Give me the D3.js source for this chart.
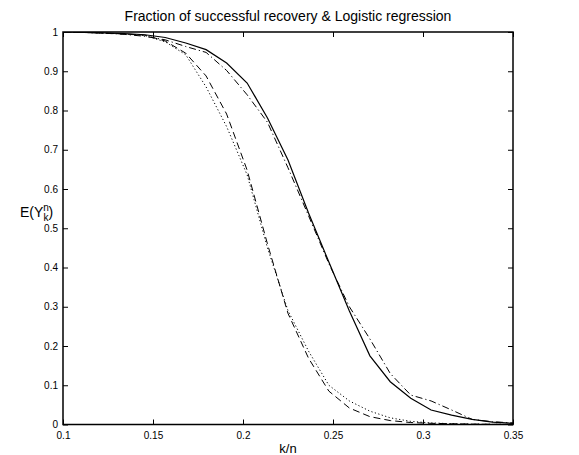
<!DOCTYPE html>
<html>
<head>
<meta charset="utf-8">
<script src="https://cdn.jsdelivr.net/npm/d3@7"></script>
<style>
  html, body { margin: 0; padding: 0; background: #fff; }
  svg { display: block; }
  text { font-family: "Liberation Sans", Arial, Helvetica, sans-serif; fill: #000; }
</style>
</head>
<body>
<svg id="chart" width="579" height="455"></svg>
<script>
// ---- data ----
const kn = [0.1000, 0.1114, 0.1227, 0.1341, 0.1455, 0.1568, 0.1682, 0.1795, 0.1909, 0.2023, 0.2136, 0.2250,
            0.2364, 0.2477, 0.2591, 0.2705, 0.2818, 0.2932, 0.3045, 0.3159, 0.3273, 0.3386, 0.3500];

const recoveryA = [1.000, 0.999, 0.998, 0.996, 0.993, 0.986, 0.972, 0.955, 0.921, 0.870, 0.781, 0.674,
                   0.539, 0.414, 0.289, 0.175, 0.109, 0.067, 0.037, 0.024, 0.013, 0.006, 0.003];
const logisticA = [0.9995, 0.999, 0.997, 0.994, 0.989, 0.980, 0.963, 0.948, 0.902, 0.840, 0.770, 0.654,
                   0.532, 0.410, 0.300, 0.218, 0.130, 0.075, 0.060, 0.037, 0.013, 0.007, 0.004];
const recoveryB = [0.9995, 0.999, 0.997, 0.995, 0.992, 0.977, 0.946, 0.888, 0.791, 0.648, 0.460, 0.283,
                   0.169, 0.085, 0.042, 0.020, 0.010, 0.005, 0.003, 0.002, 0.001, 0.0005, 0.0003];
const logisticB = [0.9995, 0.999, 0.997, 0.995, 0.991, 0.975, 0.942, 0.860, 0.759, 0.636, 0.450, 0.290,
                   0.187, 0.100, 0.060, 0.034, 0.017, 0.008, 0.004, 0.002, 0.001, 0.0005, 0.0002];

const xTicks = [0.1, 0.15, 0.2, 0.25, 0.3, 0.35];
const xTickLabels = ["0.1", "0.15", "0.2", "0.25", "0.3", "0.35"];
const yTicks = [0, 0.1, 0.2, 0.3, 0.4, 0.5, 0.6, 0.7, 0.8, 0.9, 1];
const yTickLabels = ["0", "0.1", "0.2", "0.3", "0.4", "0.5", "0.6", "0.7", "0.8", "0.9", "1"];

const titleText = "Fraction of successful recovery & Logistic regression";
const xLabelText = "k/n";

// ---- layout ----
const svg = d3.select("#chart");
const W = 579, H = 455;
const m = { left: 63, right: 66, top: 32, bottom: 30.5 };
const x = d3.scaleLinear().domain([0.1, 0.35]).range([m.left, W - m.right]);
const y = d3.scaleLinear().domain([0, 1]).range([H - m.bottom, m.top]);

svg.append("rect").attr("width", W).attr("height", H).attr("fill", "#fff");

svg.append("defs").append("clipPath").attr("id", "clip")
  .append("rect").attr("x", m.left).attr("y", m.top)
  .attr("width", x.range()[1] - m.left).attr("height", y.range()[0] - m.top);

// ---- series ----
const series = [
  { vals: recoveryA, dash: null, w: 1.2 },
  { vals: logisticA, dash: "7,3,1.2,3", w: 1.0 },
  { vals: recoveryB, dash: "7,4", w: 1.0 },
  { vals: logisticB, dash: "1.2,2.4", w: 1.0 }
];
const line = d3.line().x((d, i) => x(kn[i])).y(d => y(d));
const g = svg.append("g").attr("clip-path", "url(#clip)");
series.forEach(s => {
  g.append("path").datum(s.vals)
    .attr("d", line)
    .attr("fill", "none")
    .attr("stroke", "#000")
    .attr("stroke-width", s.w)
    .attr("stroke-dasharray", s.dash);
});

// ---- axes ----
const fmtX = d => xTickLabels[xTicks.indexOf(d)];
const fmtY = d => yTickLabels[yTicks.indexOf(d)];

const axB = svg.append("g").attr("transform", `translate(0,${y(0)})`)
  .call(d3.axisBottom(x).tickValues(xTicks).tickFormat(fmtX).tickSizeInner(-5).tickSizeOuter(0).tickPadding(7));
const axT = svg.append("g").attr("transform", `translate(0,${y(1)})`)
  .call(d3.axisTop(x).tickValues(xTicks).tickFormat("").tickSizeInner(-5).tickSizeOuter(0));
const axL = svg.append("g").attr("transform", `translate(${x(0.1)},0)`)
  .call(d3.axisLeft(y).tickValues(yTicks).tickFormat(fmtY).tickSizeInner(-5).tickSizeOuter(0).tickPadding(5));
const axR = svg.append("g").attr("transform", `translate(${x(0.35)},0)`)
  .call(d3.axisRight(y).tickValues(yTicks).tickFormat("").tickSizeInner(-5).tickSizeOuter(0));

[axB, axT, axL, axR].forEach(a => {
  a.select(".domain").remove();
  a.selectAll(".tick line").attr("stroke", "#000").attr("stroke-width", 1);
  a.selectAll(".tick text").attr("font-size", 10).attr("font-family", "Liberation Sans, Arial, sans-serif").attr("fill", "#000");
});

// box
svg.append("rect")
  .attr("x", x(0.1)).attr("y", y(1))
  .attr("width", x(0.35) - x(0.1)).attr("height", y(0) - y(1))
  .attr("fill", "none").attr("stroke", "#000").attr("stroke-width", 1.5);

// ---- text ----
svg.append("text")
  .attr("x", (x(0.1) + x(0.35)) / 2).attr("y", 21)
  .attr("text-anchor", "middle").attr("font-size", 14)
  .text(titleText);

svg.append("text")
  .attr("x", (x(0.1) + x(0.35)) / 2).attr("y", 453)
  .attr("text-anchor", "middle").attr("font-size", 13)
  .text(xLabelText);

const yl = svg.append("text").attr("x", 20).attr("y", 217).attr("font-size", 14);
yl.append("tspan").text("E(Y");
yl.append("tspan").attr("font-size", 10).attr("dy", -6).text("n");
yl.append("tspan").attr("font-size", 10).attr("dx", -5.5).attr("dy", 9.5).text("k");
yl.append("tspan").attr("dy", -3.5).text(")");
</script>
</body>
</html>
